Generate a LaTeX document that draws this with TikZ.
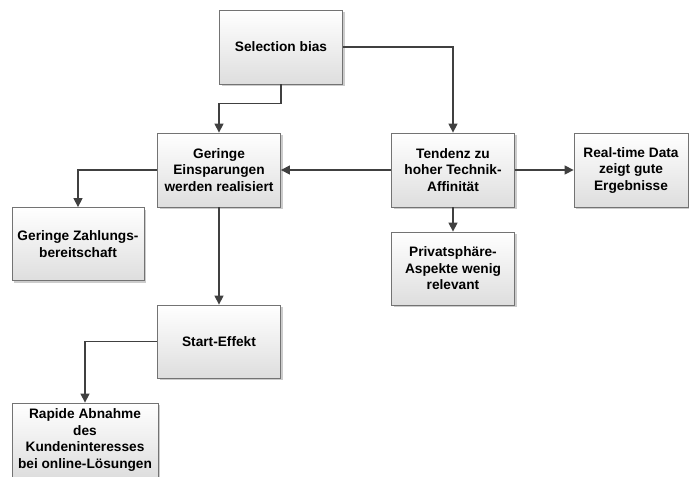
\documentclass[tikz,border=0pt]{standalone}
\usepackage{fontspec}
\setmainfont{Liberation Sans}
\usetikzlibrary{arrows.meta,shadows}

\begin{document}
\begin{tikzpicture}[x=1pt,y=-1pt,
    box/.style={draw=black!55, line width=0.8pt, top color=white, bottom color=black!13,
      drop shadow={shadow xshift=2pt, shadow yshift=-2pt, fill=black!40, opacity=0.5},
      minimum width=123pt, minimum height=74pt, inner sep=2pt, align=center,
      font=\fontsize{13.7}{16.5}\selectfont\bfseries},
    pfeil/.style={draw=black!75, line width=1.3pt, -{Triangle[width=9pt,length=9pt]}}]

        \useasboundingbox (0,0) rectangle (689,477);

        % Ursache oben
        \node[box] (sel) at (281,47) {Selection bias};

        % mittlere Reihe
        \node[box] (ger) at (219,170) {Geringe\\Einsparungen\\werden realisiert};
        \node[box] (ten) at (453,170) {Tendenz zu\\hoher Technik-\\Affinität};
        \node[box, minimum width=114pt] (real) at (631,170) {Real-time Data\\zeigt gute\\Ergebnisse};

        % Folgen
        \node[box, minimum width=132pt, minimum height=73pt] (zahl) at (78,244) {Geringe Zahlungs-\\bereitschaft};
        \node[box, minimum height=73pt] (priv) at (453,268.5) {Privatsphäre-\\Aspekte wenig\\relevant};
        \node[box, minimum height=73pt] (start) at (219,341.5) {Start-Effekt};
        \node[box, minimum width=146pt] (rap) at (85,440) {Rapide Abnahme\\des\\Kundeninteresses\\bei online-Lösungen};

        % Pfeile
        \draw[pfeil] (sel.south) -- ++(0,19) -| (ger.north);
        \draw[pfeil] (sel.east) -| (ten.north);
        \draw[pfeil] (ten.west) -- (ger.east);
        \draw[pfeil] (ten.east) -- (real.west);
        \draw[pfeil] (ten.south) -- (priv.north);
        \draw[pfeil] (ger.west) -| (zahl.north);
        \draw[pfeil] (ger.south) -- (start.north);
        \draw[pfeil] (start.west) -| (rap.north);

\end{tikzpicture}
\end{document}
